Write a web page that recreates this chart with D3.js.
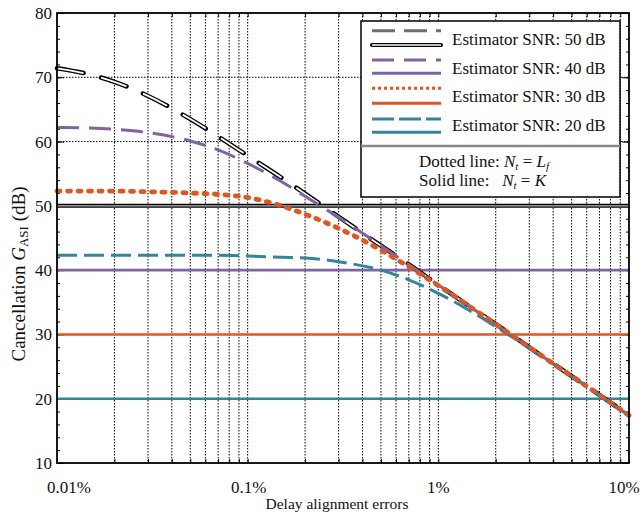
<!DOCTYPE html>
<html lang="en">
<head>
<meta charset="utf-8">
<title>Cancellation vs delay alignment errors</title>
<script src="https://cdn.jsdelivr.net/npm/d3@7"></script>
<style>
  body { margin: 0; background: #fff; }
  text { font-family: "Liberation Serif", "DejaVu Serif", serif; fill: #111; }
</style>
</head>
<body>
<script>
// delay alignment errors (%) at which the curves were read
var errors = [0.01, 0.015, 0.02, 0.03, 0.05, 0.07, 0.1, 0.15, 0.2, 0.3, 0.5, 0.7, 1, 1.5, 2, 3, 5, 7, 10];

// dotted line curves (Nt = Lf), cancellation in dB
var snr50 = [71.4, 70.4, 69.3, 67.1, 63.5, 60.8, 57.8, 54.4, 51.9, 48.3, 43.8, 40.9, 37.7, 34.1, 31.6, 28.0, 23.5, 20.6, 17.4];
var snr40 = [62.2, 62.1, 61.9, 61.4, 60.1, 58.7, 56.6, 53.8, 51.5, 48.2, 43.8, 40.8, 37.7, 34.1, 31.6, 28.0, 23.5, 20.6, 17.4];
var snr30 = [52.3, 52.3, 52.3, 52.2, 52.0, 51.8, 51.3, 50.0, 48.7, 46.5, 43.1, 40.5, 37.6, 34.1, 31.6, 28.0, 23.5, 20.6, 17.4];
var snr20 = [42.3, 42.3, 42.3, 42.3, 42.3, 42.3, 42.2, 42.0, 41.9, 41.3, 40.0, 38.5, 36.4, 33.5, 31.2, 27.9, 23.5, 20.5, 17.4];

// solid lines (Nt = K) are flat at these levels
var solidLevels = [50, 40, 30, 20];

var snrNames = ["Estimator SNR: 50 dB", "Estimator SNR: 40 dB", "Estimator SNR: 30 dB", "Estimator SNR: 20 dB"];
var yTicks = [10, 20, 30, 40, 50, 60, 70, 80];
var xTicks = [0.01, 0.1, 1, 10];
var xTickLabels = ["0.01%", "0.1%", "1%", "10%"];

var w = 641, h = 514;
var pLeft = 57, pRight = 629, pTop = 13, pBottom = 463;

var colors = ["#000000", "#8064a2", "#e2561e", "#31869b"];

var xScale = d3.scaleLog().domain([0.01, 10]).range([pLeft, pRight]);
var yScale = d3.scaleLinear().domain([10, 80]).range([pBottom, pTop]);

var svg = d3.select("body").append("svg")
  .attr("width", w)
  .attr("height", h);

// minor positions for the log grid
var minor = [];
[0.01, 0.1, 1].forEach(function(d) {
  for (var k = 1; k <= 9; k++) minor.push(d * k);
});
minor.push(10);

// grid
svg.append("g").selectAll("line")
  .data(minor.filter(function(d) { return d > 0.01 && d < 10; }))
  .enter().append("line")
  .attr("x1", function(d) { return xScale(d); })
  .attr("x2", function(d) { return xScale(d); })
  .attr("y1", pTop).attr("y2", pBottom)
  .attr("stroke", "#000").attr("stroke-width", 1)
  .attr("stroke-dasharray", "1.5,1.5");

svg.append("g").selectAll("line")
  .data(yTicks.filter(function(d) { return d > 10 && d < 80; }))
  .enter().append("line")
  .attr("x1", pLeft).attr("x2", pRight)
  .attr("y1", function(d) { return yScale(d); })
  .attr("y2", function(d) { return yScale(d); })
  .attr("stroke", "#000").attr("stroke-width", 1)
  .attr("stroke-dasharray", "1.5,1.5");

// axes with inward ticks
var xAxisB = d3.axisBottom(xScale).tickValues(minor).tickSize(-4).tickFormat("");
var xAxisT = d3.axisTop(xScale).tickValues(minor).tickSize(-4).tickFormat("");
var yAxisL = d3.axisLeft(yScale).tickValues(yTicks).tickSize(-7).tickFormat("");
var yAxisR = d3.axisRight(yScale).tickValues(yTicks).tickSize(-7).tickFormat("");
var yMinor = d3.range(10, 81, 2);
var yAxisLm = d3.axisLeft(yScale).tickValues(yMinor).tickSize(-3).tickFormat("");
var yAxisRm = d3.axisRight(yScale).tickValues(yMinor).tickSize(-3).tickFormat("");

[[xAxisB, "translate(0," + pBottom + ")"], [xAxisT, "translate(0," + pTop + ")"],
 [yAxisL, "translate(" + pLeft + ",0)"], [yAxisR, "translate(" + pRight + ",0)"],
 [yAxisLm, "translate(" + pLeft + ",0)"], [yAxisRm, "translate(" + pRight + ",0)"]].forEach(function(a) {
  var g = svg.append("g").attr("transform", a[1]).call(a[0]);
  g.select(".domain").remove();
  g.selectAll("line").attr("stroke", "#000").attr("stroke-width", 1);
});

// solid lines Nt = K
solidLevels.forEach(function(v, i) {
  var y = yScale(v);
  if (i === 0) {
    svg.append("line").attr("x1", pLeft).attr("x2", pRight).attr("y1", y).attr("y2", y)
      .attr("stroke", "#000").attr("stroke-width", 4);
    svg.append("line").attr("x1", pLeft).attr("x2", pRight).attr("y1", y).attr("y2", y)
      .attr("stroke", "#bbb").attr("stroke-width", 1.4);
  } else {
    svg.append("line").attr("x1", pLeft).attr("x2", pRight).attr("y1", y).attr("y2", y)
      .attr("stroke", colors[i]).attr("stroke-width", 2.6);
  }
});

// dotted line curves Nt = Lf
var line = d3.line()
  .x(function(d) { return xScale(d[0]); })
  .y(function(d) { return yScale(d[1]); })
  .curve(d3.curveMonotoneX);

function pts(vals) {
  return errors.map(function(e, i) { return [e, vals[i]]; });
}

var plot = svg.append("g");

plot.append("path").datum(pts(snr50)).attr("d", line)
  .attr("fill", "none").attr("stroke", "#000").attr("stroke-width", 4.5)
  .attr("stroke-linecap", "round").attr("stroke-dasharray", "27,18");
plot.append("path").datum(pts(snr50)).attr("d", line)
  .attr("fill", "none").attr("stroke", "#fff").attr("stroke-width", 1.8)
  .attr("stroke-dasharray", "27,18");

plot.append("path").datum(pts(snr40)).attr("d", line)
  .attr("fill", "none").attr("stroke", colors[1]).attr("stroke-width", 3)
  .attr("stroke-dasharray", "22,10");

plot.append("path").datum(pts(snr20)).attr("d", line)
  .attr("fill", "none").attr("stroke", colors[3]).attr("stroke-width", 3)
  .attr("stroke-dasharray", "20,7");

plot.append("path").datum(pts(snr30)).attr("d", line)
  .attr("fill", "none").attr("stroke", colors[2]).attr("stroke-width", 4.8)
  .attr("stroke-linecap", "round").attr("stroke-dasharray", "3,7.5");

// frame
svg.append("rect")
  .attr("x", pLeft).attr("y", pTop)
  .attr("width", pRight - pLeft).attr("height", pBottom - pTop)
  .attr("fill", "none").attr("stroke", "#000").attr("stroke-width", 1.8);

// tick labels
svg.append("g").selectAll("text")
  .data(yTicks).enter().append("text")
  .attr("x", pLeft - 5)
  .attr("y", function(d) { return yScale(d) + 6; })
  .attr("text-anchor", "end")
  .attr("font-size", "17px")
  .text(function(d) { return d; });

var xLabelShift = [12, 1, 0, -5];
svg.append("g").selectAll("text")
  .data(xTicks).enter().append("text")
  .attr("x", function(d, i) { return xScale(d) + xLabelShift[i]; })
  .attr("y", 493)
  .attr("text-anchor", "middle")
  .attr("font-size", "17px")
  .text(function(d, i) { return xTickLabels[i]; });

// axis titles
svg.append("text")
  .attr("x", 337).attr("y", 509)
  .attr("text-anchor", "middle")
  .attr("font-size", "15.5px")
  .text("Delay alignment errors");

var yt = svg.append("text")
  .attr("transform", "translate(25,274) rotate(-90)")
  .attr("text-anchor", "middle")
  .attr("font-size", "19px");
yt.append("tspan").text("Cancellation ");
yt.append("tspan").attr("font-style", "italic").text("G");
yt.append("tspan").attr("font-size", "13px").attr("dy", 3).text("ASI");
yt.append("tspan").attr("dy", -3).text(" (dB)");

// legend
var lg = svg.append("g");
lg.append("rect")
  .attr("x", 361).attr("y", 21).attr("width", 259).attr("height", 176)
  .attr("fill", "#fff").attr("stroke", "#000").attr("stroke-width", 1.5);
lg.append("line")
  .attr("x1", 361).attr("x2", 620).attr("y1", 146).attr("y2", 146)
  .attr("stroke", "#888").attr("stroke-width", 2.5);

var dashY = [30.7, 60, 88.3, 119];
var solidY = [45, 73.3, 103.3, 132.3];
var textY = [45, 73.7, 102.3, 130.7];
var gx1 = 372, gx2 = 441;

// 50 dB glyphs
lg.append("line").attr("x1", gx1).attr("x2", gx2).attr("y1", dashY[0]).attr("y2", dashY[0])
  .attr("stroke", "#707070").attr("stroke-width", 3).attr("stroke-dasharray", "23,9");
lg.append("line").attr("x1", gx1).attr("x2", gx2).attr("y1", solidY[0]).attr("y2", solidY[0])
  .attr("stroke", "#000").attr("stroke-width", 4).attr("stroke-linecap", "round");
lg.append("line").attr("x1", gx1).attr("x2", gx2).attr("y1", solidY[0]).attr("y2", solidY[0])
  .attr("stroke", "#fff").attr("stroke-width", 1.6);

// other glyphs
var glyphDash = [null, "22,10", "3,3", "22,5"];
var glyphWidth = [null, 3, 3, 3];
[1, 2, 3].forEach(function(i) {
  lg.append("line").attr("x1", gx1).attr("x2", gx2).attr("y1", dashY[i]).attr("y2", dashY[i])
    .attr("stroke", colors[i]).attr("stroke-width", glyphWidth[i])
    .attr("stroke-dasharray", glyphDash[i]);
  lg.append("line").attr("x1", gx1).attr("x2", gx2).attr("y1", solidY[i]).attr("y2", solidY[i])
    .attr("stroke", colors[i]).attr("stroke-width", 3);
});

lg.selectAll("text.snr")
  .data(snrNames).enter().append("text")
  .attr("class", "snr")
  .attr("x", 452).attr("y", function(d, i) { return textY[i]; })
  .attr("font-size", "17px")
  .text(function(d) { return d; });

var t1 = lg.append("text").attr("x", 419).attr("y", 167).attr("font-size", "17px");
t1.append("tspan").text("Dotted line: ");
t1.append("tspan").attr("font-style", "italic").text("N");
t1.append("tspan").attr("font-style", "italic").attr("font-size", "11px").attr("dy", 3).text("t");
t1.append("tspan").attr("dy", -3).text(" = ");
t1.append("tspan").attr("font-style", "italic").text("L");
t1.append("tspan").attr("font-style", "italic").attr("font-size", "11px").attr("dy", 3).text("f");

var t2 = lg.append("text").attr("x", 419).attr("y", 186).attr("font-size", "17px")
  .attr("xml:space", "preserve");
t2.append("tspan").text("Solid line:   ");
t2.append("tspan").attr("font-style", "italic").text("N");
t2.append("tspan").attr("font-style", "italic").attr("font-size", "11px").attr("dy", 3).text("t");
t2.append("tspan").attr("dy", -3).text(" = ");
t2.append("tspan").attr("font-style", "italic").text("K");
</script>
</body>
</html>
